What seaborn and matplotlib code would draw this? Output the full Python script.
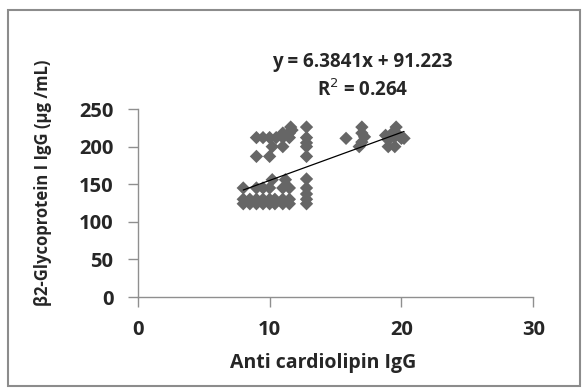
import seaborn as sns
import matplotlib.pyplot as plt
import numpy as np
import pandas as pd

# anti cardiolipin IgG (x) vs beta2-glycoprotein I IgG (y)
acl = [8, 8.5, 9, 9.5, 10, 10.4, 11, 11.5, 12.8,
       8, 8.5, 9, 9.5, 10, 10.4, 11, 11.5, 12.8,
       8, 9, 9.5, 10, 11, 11.5, 12.8,
       10.2, 11.2, 12.8, 12.8,
       9, 9.5, 10, 10.5, 11, 11.5, 12.8,
       11, 11.5, 11.7, 11.6, 12.8,
       10.2, 11, 12.8, 9, 10, 12.8, 12.8,
       15.8, 17, 17, 17.2, 17, 16.8,
       18.8, 19, 19, 19.5, 19.6, 19.3, 19.8, 20, 20.2, 19.5]
b2gp = [124, 124, 124, 124, 124, 124, 124, 124, 124,
        130, 130, 130, 130, 130, 130, 130, 130, 130,
        145, 145, 145, 145, 145, 145, 145,
        156, 156, 157, 137,
        212, 212, 212, 212, 212, 212, 212,
        218, 218, 222, 226, 226,
        200, 200, 200, 187, 187, 187, 205,
        211, 226, 218, 213, 206, 200,
        215, 209, 200, 200, 226, 218, 215, 211, 211, 213]

slope = 6.3841
intercept = 91.223
r2 = 0.264

df = pd.DataFrame({"acl": acl, "b2gp": b2gp})

sns.set_style("white", {"xtick.bottom": True, "ytick.left": True})
plt.rcParams['font.family'] = ['Open Sans', 'DejaVu Sans']

fig = plt.figure(figsize=(5.84, 3.88), dpi=100)
ax = fig.add_axes([0.236, 0.2345, 0.677, 0.4845])

sns.scatterplot(data=df, x="acl", y="b2gp", marker="D", s=46, color="#666666",
                edgecolor="none", ax=ax, zorder=3)

xs = np.array([min(acl), max(acl)])
ax.plot(xs, slope * xs + intercept, color="black", lw=0.9, zorder=4)

ax.set_xlim(0, 30)
ax.set_ylim(0, 250)
ax.set_xticks([0, 10, 20, 30])
ax.set_yticks([0, 50, 100, 150, 200, 250])
for s in ["top", "right"]:
    ax.spines[s].set_visible(False)
for s in ["left", "bottom"]:
    ax.spines[s].set_color("#8f8f8f")
    ax.spines[s].set_linewidth(1.0)
ax.tick_params(axis="both", which="major", direction="out", length=7, width=1.0,
               color="#8f8f8f", labelsize=14.5, bottom=True, left=True)
ax.tick_params(axis="x", pad=9.5)
ax.tick_params(axis="y", pad=10.5)
for lab in ax.get_xticklabels() + ax.get_yticklabels():
    lab.set_fontweight("bold")

ax.set_xlabel("Anti cardiolipin IgG", fontsize=14, fontweight="bold")
ax.xaxis.set_label_coords(0.468, -0.3)
ax.set_ylabel("β2-Glycoprotein I IgG (µg /mL)", fontsize=12, fontweight="bold")
ax.yaxis.set_label_coords(-0.218, 0.606)

fig.text(0.621, 0.84, f"y = {slope}x + {intercept}", ha="center", va="center",
         fontsize=13.5, fontweight="bold")
fig.text(0.621, 0.768, f"R$^2$ = {r2}", ha="center", va="center",
         fontsize=13.5, fontweight="bold")

fig.patches.append(plt.Rectangle((0.014, 0.005), 0.98, 0.968, transform=fig.transFigure,
                                 fill=False, edgecolor="#8c8c8c", lw=1.5))

fig.savefig("out.png", dpi=100)
